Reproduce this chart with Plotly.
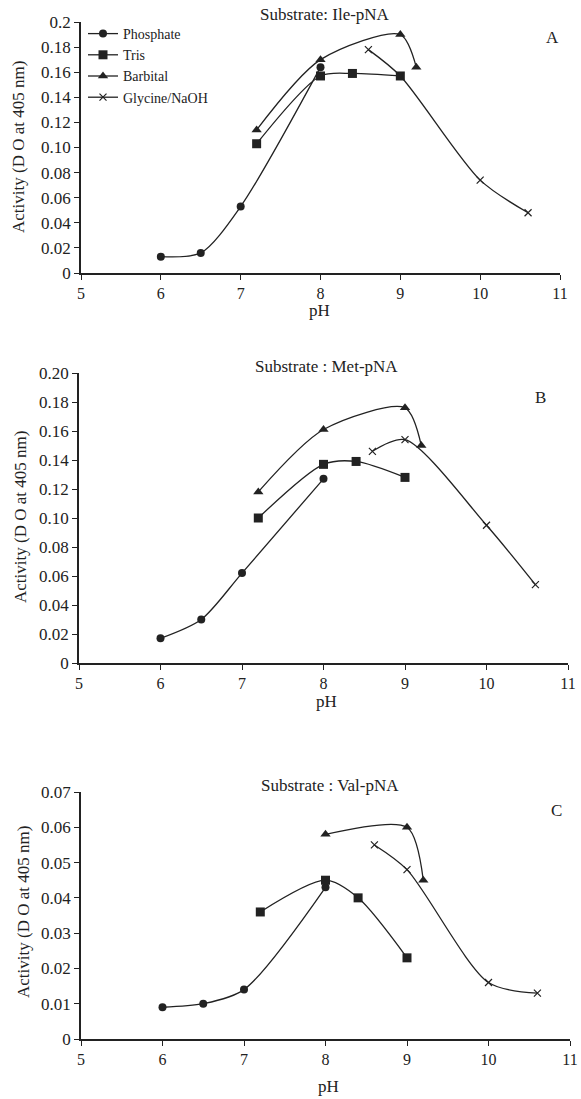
import plotly.graph_objects as go

W, H = 581, 1099

# ---------------- data ----------------
# Panel A : Ile-pNA
A_phos_x = [6, 6.5, 7, 8]
A_phos_y = [0.013, 0.016, 0.053, 0.164]
A_tris_x = [7.2, 8, 8.4, 9]
A_tris_y = [0.103, 0.157, 0.159, 0.157]
A_barb_x = [7.2, 8, 9, 9.2]
A_barb_y = [0.114, 0.170, 0.190, 0.164]
A_gly_x = [8.6, 9, 10, 10.6]
A_gly_y = [0.178, 0.157, 0.074, 0.048]

# Panel B : Met-pNA
B_phos_x = [6, 6.5, 7, 8]
B_phos_y = [0.017, 0.030, 0.062, 0.127]
B_tris_x = [7.2, 8, 8.4, 9]
B_tris_y = [0.100, 0.137, 0.139, 0.128]
B_barb_x = [7.2, 8, 9, 9.2]
B_barb_y = [0.118, 0.161, 0.176, 0.150]
B_gly_x = [8.6, 9, 10, 10.6]
B_gly_y = [0.146, 0.154, 0.095, 0.054]

# Panel C : Val-pNA
C_phos_x = [6, 6.5, 7, 8]
C_phos_y = [0.009, 0.010, 0.014, 0.043]
C_tris_x = [7.2, 8, 8.4, 9]
C_tris_y = [0.036, 0.045, 0.040, 0.023]
C_barb_x = [8, 9, 9.2]
C_barb_y = [0.058, 0.060, 0.045]
C_gly_x = [8.6, 9, 10, 10.6]
C_gly_y = [0.055, 0.048, 0.016, 0.013]

series_names = ["Phosphate", "Tris", "Barbital", "Glycine/NaOH"]

x_ticks = [5, 6, 7, 8, 9, 10, 11]
A_yticks = [0, 0.02, 0.04, 0.06, 0.08, 0.10, 0.12, 0.14, 0.16, 0.18, 0.2]
A_yticktext = ["0", "0.02", "0.04", "0.06", "0.08", "0.10", "0.12", "0.14", "0.16", "0.18", "0.2"]
B_yticks = [0, 0.02, 0.04, 0.06, 0.08, 0.10, 0.12, 0.14, 0.16, 0.18, 0.20]
B_yticktext = ["0", "0.02", "0.04", "0.06", "0.08", "0.10", "0.12", "0.14", "0.16", "0.18", "0.20"]
C_yticks = [0, 0.01, 0.02, 0.03, 0.04, 0.05, 0.06, 0.07]
C_yticktext = ["0", "0.01", "0.02", "0.03", "0.04", "0.05", "0.06", "0.07"]

titles = ["Substrate: Ile-pNA", "Substrate : Met-pNA", "Substrate : Val-pNA"]
panel_labels = ["A", "B", "C"]
ytitle = "Activity (D O at 405 nm)"
xtitle = "pH"

# ---------------- style ----------------
FONT = "Liberation Serif"
INK = "#222222"
LINE_W = 1.3
markers = [
    dict(symbol="circle", size=8),
    dict(symbol="square", size=9),
    dict(symbol="triangle-up", size=9),
    dict(symbol="x-thin", size=7, line=dict(width=1.2, color=INK)),
]

# pixel boxes of the three plot areas: (x0, x1, ytop, ybottom)
boxes = [(81, 560, 22, 273), (79, 568, 373, 663), (81, 570, 792, 1039)]


def xd(px):
    return px / W


def yd(py):
    return 1 - py / H


fig = go.Figure()

panels = [
    [(A_phos_x, A_phos_y), (A_tris_x, A_tris_y), (A_barb_x, A_barb_y), (A_gly_x, A_gly_y)],
    [(B_phos_x, B_phos_y), (B_tris_x, B_tris_y), (B_barb_x, B_barb_y), (B_gly_x, B_gly_y)],
    [(C_phos_x, C_phos_y), (C_tris_x, C_tris_y), (C_barb_x, C_barb_y), (C_gly_x, C_gly_y)],
]

for p, data in enumerate(panels):
    ax = "" if p == 0 else str(p + 1)
    for s, (xs, ys) in enumerate(data):
        m = dict(color=INK)
        m.update(markers[s])
        fig.add_trace(go.Scatter(
            x=xs, y=ys, mode="lines+markers", name=series_names[s],
            line=dict(color=INK, width=LINE_W, shape="spline", smoothing=0.8),
            marker=m, xaxis="x" + ax, yaxis="y" + ax,
            showlegend=(p == 0),
        ))

yticks = [(A_yticks, A_yticktext, 0.2), (B_yticks, B_yticktext, 0.2), (C_yticks, C_yticktext, 0.07)]

layout = dict(
    width=W, height=H,
    margin=dict(l=0, r=0, t=0, b=0),
    paper_bgcolor="white", plot_bgcolor="white",
    font=dict(family=FONT, size=16, color=INK),
    showlegend=True,
    legend=dict(
        x=xd(83), y=yd(18), xanchor="left", yanchor="top",
        bgcolor="rgba(0,0,0,0)", font=dict(family=FONT, size=14, color=INK),
        tracegroupgap=0, itemwidth=30,
    ),
)

annotations = []
for p, (x0, x1, yt, yb) in enumerate(boxes):
    ax = "" if p == 0 else str(p + 1)
    tv, tt, ymax = yticks[p]
    layout["xaxis" + ax] = dict(
        domain=[xd(x0), xd(x1)], range=[5, 11], anchor="y" + ax,
        tickvals=x_ticks, ticks="outside", ticklen=5, tickwidth=1.3,
        tickcolor=INK, showline=True, linecolor=INK, linewidth=1.5,
        showgrid=False, zeroline=False, automargin=False,
        tickfont=dict(family=FONT, size=16, color=INK),
    )
    layout["yaxis" + ax] = dict(
        domain=[yd(yb), yd(yt)], range=[0, ymax], anchor="x" + ax,
        tickvals=tv, ticktext=tt, ticks="outside", ticklen=5, tickwidth=1.3,
        tickcolor=INK, showline=True, linecolor=INK, linewidth=1.5,
        showgrid=False, zeroline=False, automargin=False,
        tickfont=dict(family=FONT, size=17, color=INK),
    )

title_pos = [(325, 15), (326, 366), (330, 785)]
label_pos = [(552, 38), (540, 397), (556, 810)]
ph_pos = [(320, 310), (326, 701), (328, 1086)]
ytitle_pos = [(19, 147), (20, 517), (23, 912)]

for p in range(3):
    common = dict(xref="paper", yref="paper", showarrow=False, xanchor="center", yanchor="middle")
    annotations.append(dict(text=titles[p], x=xd(title_pos[p][0]), y=yd(title_pos[p][1]),
                            font=dict(family=FONT, size=17, color=INK), **common))
    annotations.append(dict(text=panel_labels[p], x=xd(label_pos[p][0]), y=yd(label_pos[p][1]),
                            font=dict(family=FONT, size=17, color=INK), **common))
    annotations.append(dict(text=xtitle, x=xd(ph_pos[p][0]), y=yd(ph_pos[p][1]),
                            font=dict(family=FONT, size=17, color=INK), **common))
    annotations.append(dict(text=ytitle, x=xd(ytitle_pos[p][0]), y=yd(ytitle_pos[p][1]),
                            textangle=-90, font=dict(family=FONT, size=17, color=INK), **common))

layout["annotations"] = annotations
fig.update_layout(**layout)
fig.write_html(
    "out.html",
    config={"displayModeBar": False},
    post_script="document.body.style.margin='0';document.body.style.overflow='hidden';",
)
